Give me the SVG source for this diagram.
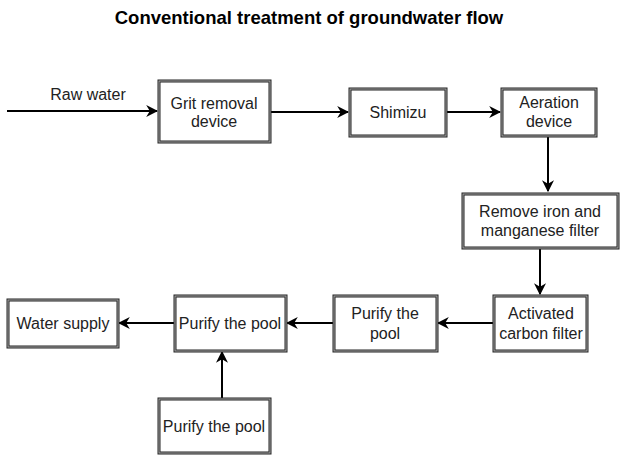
<svg xmlns="http://www.w3.org/2000/svg" width="621" height="455" viewBox="0 0 621 455">
<style>
.box{fill:#fff;stroke:#222;stroke-width:3}
.inner{fill:none;stroke:#aaa;stroke-width:1}
.t{font-family:"Liberation Sans",Arial,sans-serif;font-size:16px;fill:#222;text-anchor:middle;dominant-baseline:central}
.c{fill:none;stroke:#000;stroke-width:2}
</style>
<defs>
<marker id="ah" viewBox="0 0 10 10" refX="9" refY="5" markerWidth="6" markerHeight="6" orient="auto" markerUnits="strokeWidth">
<path d="M0,0 L10,5 L0,10 L3,5 Z" fill="#000"/>
</marker>
</defs>
<rect width="621" height="455" fill="#fff"/>
<text x="309" y="17" font-family="'Liberation Sans',Arial,sans-serif" font-size="18.5" font-weight="bold" text-anchor="middle" dominant-baseline="central" fill="#000">Conventional treatment of groundwater flow</text>
<g id="connectors">
<line class="c" x1="7" y1="111" x2="157" y2="111" marker-end="url(#ah)"/>
<line class="c" x1="270" y1="112" x2="348" y2="112" marker-end="url(#ah)"/>
<line class="c" x1="446" y1="112" x2="500" y2="112" marker-end="url(#ah)"/>
<line class="c" x1="548" y1="136" x2="548" y2="191" marker-end="url(#ah)"/>
<line class="c" x1="540" y1="248" x2="540" y2="294" marker-end="url(#ah)"/>
<line class="c" x1="493" y1="323" x2="438" y2="323" marker-end="url(#ah)"/>
<line class="c" x1="333" y1="323" x2="287" y2="323" marker-end="url(#ah)"/>
<line class="c" x1="174" y1="323" x2="119" y2="323" marker-end="url(#ah)"/>
<line class="c" x1="222" y1="398" x2="222" y2="352" marker-end="url(#ah)"/>
<text class="t" x="88" y="94" font-size="17">Raw water</text>
</g>
<g id="grit">
<rect class="box" x="159" y="81" width="111" height="61"/><rect class="inner" x="159" y="81" width="111" height="61"/>
<text class="t" x="214" y="103">Grit removal</text><text class="t" x="214" y="121">device</text>
</g>
<g id="shimizu">
<rect class="box" x="350" y="89" width="96" height="47"/><rect class="inner" x="350" y="89" width="96" height="47"/>
<text class="t" x="398" y="112">Shimizu</text>
</g>
<g id="aeration">
<rect class="box" x="502" y="89" width="94" height="47"/><rect class="inner" x="502" y="89" width="94" height="47"/>
<text class="t" x="549" y="102">Aeration</text><text class="t" x="549" y="121">device</text>
</g>
<g id="iron">
<rect class="box" x="463" y="194" width="155" height="54"/><rect class="inner" x="463" y="194" width="155" height="54"/>
<text class="t" x="540" y="211">Remove iron and</text><text class="t" x="540" y="230">manganese filter</text>
</g>
<g id="carbon">
<rect class="box" x="494" y="296" width="93" height="55"/><rect class="inner" x="494" y="296" width="93" height="55"/>
<text class="t" x="541" y="313">Activated</text><text class="t" x="541" y="333">carbon filter</text>
</g>
<g id="purify1">
<rect class="box" x="334" y="296" width="103" height="55"/><rect class="inner" x="334" y="296" width="103" height="55"/>
<text class="t" x="385" y="313">Purify the</text><text class="t" x="385" y="333">pool</text>
</g>
<g id="purify2">
<rect class="box" x="175" y="296" width="111" height="55"/><rect class="inner" x="175" y="296" width="111" height="55"/>
<text class="t" x="230" y="323">Purify the pool</text>
</g>
<g id="supply">
<rect class="box" x="8" y="300" width="110" height="47"/><rect class="inner" x="8" y="300" width="110" height="47"/>
<text class="t" x="63" y="323">Water supply</text>
</g>
<g id="purify3">
<rect class="box" x="159" y="399" width="111" height="54"/><rect class="inner" x="159" y="399" width="111" height="54"/>
<text class="t" x="214" y="426">Purify the pool</text>
</g>
</svg>
